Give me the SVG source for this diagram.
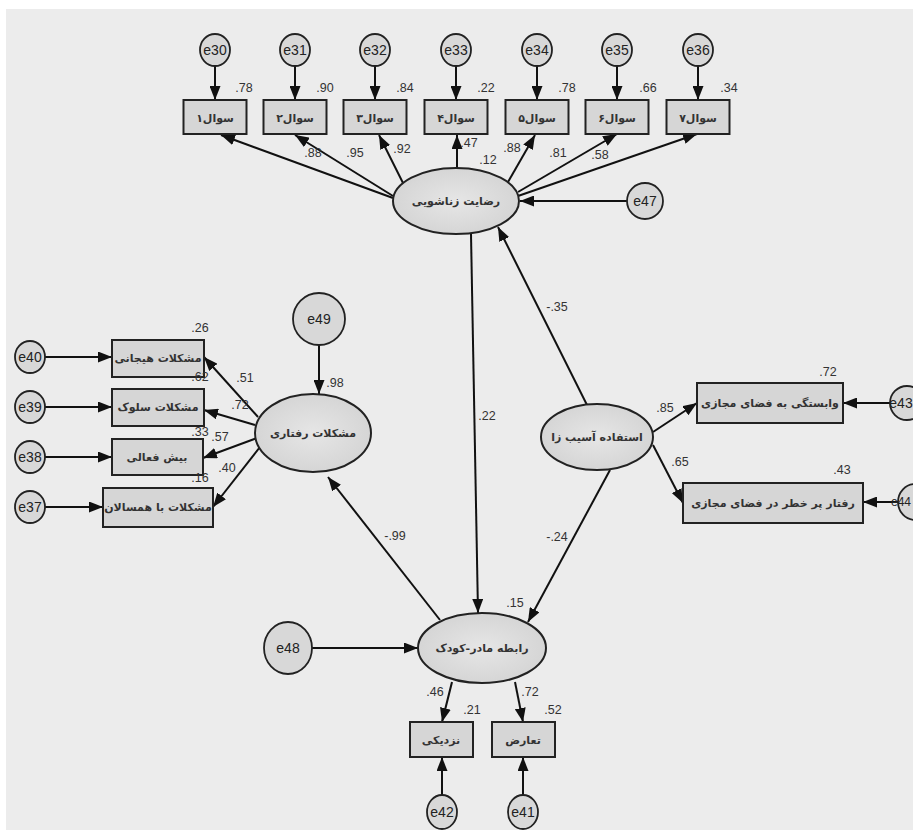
<svg xmlns="http://www.w3.org/2000/svg" width="913" height="830" viewBox="0 0 913 830">
<defs>
<marker id="ah" markerUnits="userSpaceOnUse" markerWidth="14" markerHeight="11" refX="14" refY="5.5" orient="auto">
<path d="M0,0 L14,5.5 L0,11 z" fill="#111"/>
</marker>
<radialGradient id="eg" cx="50%" cy="50%" r="60%">
<stop offset="0" stop-color="#e6e6e6"/>
<stop offset="1" stop-color="#d2d2d2"/>
</radialGradient>
<style>
.bg{fill:#ececec}
.box{fill:#d6d6d6;stroke:#222;stroke-width:2}
.lat{fill:url(#eg);stroke:#222;stroke-width:2}
.err{fill:#d8d8d8;stroke:#222;stroke-width:1.8}
.ln{stroke:#111;stroke-width:2;fill:none;marker-end:url(#ah)}
.num{font-family:"Liberation Sans Narrow","Liberation Sans",Arial,sans-serif;font-size:12.5px;fill:#333;text-anchor:middle}
.et{font-family:"Liberation Sans",Arial,sans-serif;font-size:14px;fill:#222;text-anchor:middle}
.fa{font-family:"DejaVu Sans","Noto Sans",sans-serif;font-size:11px;font-weight:bold;fill:#333;text-anchor:middle}
</style>
</defs>
<rect x="0" y="0" width="913" height="830" fill="#fff"/>
<rect class="bg" x="6" y="9" width="907" height="821"/>

<g id="connectors">
<line class="ln" x1="215" y1="66" x2="215" y2="100"/>
<line class="ln" x1="295" y1="66" x2="295" y2="100"/>
<line class="ln" x1="375" y1="66" x2="375" y2="100"/>
<line class="ln" x1="456" y1="66" x2="456" y2="100"/>
<line class="ln" x1="537" y1="66" x2="537" y2="100"/>
<line class="ln" x1="617" y1="66" x2="617" y2="100"/>
<line class="ln" x1="698" y1="66" x2="698" y2="100"/>
<line class="ln" x1="393" y1="198" x2="221" y2="135"/>
<line class="ln" x1="393" y1="196" x2="295" y2="135"/>
<line class="ln" x1="403" y1="183" x2="379" y2="135"/>
<line class="ln" x1="457" y1="168" x2="457" y2="135"/>
<line class="ln" x1="508" y1="182" x2="535" y2="135"/>
<line class="ln" x1="518" y1="192" x2="617" y2="134"/>
<line class="ln" x1="518" y1="196" x2="697" y2="134"/>
<line class="ln" x1="627" y1="201" x2="520" y2="201"/>
<line class="ln" x1="471" y1="234" x2="478" y2="613"/>
<line class="ln" x1="587" y1="405" x2="498" y2="227"/>
<line class="ln" x1="610" y1="470" x2="528" y2="622"/>
<line class="ln" x1="312" y1="648" x2="418" y2="648"/>
<line class="ln" x1="440" y1="620" x2="328" y2="477"/>
<line class="ln" x1="319" y1="345" x2="319" y2="394"/>
<line class="ln" x1="45" y1="357" x2="112" y2="357"/>
<line class="ln" x1="45" y1="407" x2="112" y2="407"/>
<line class="ln" x1="45" y1="457" x2="112" y2="457"/>
<line class="ln" x1="45" y1="507" x2="103" y2="507"/>
<line class="ln" x1="258" y1="417" x2="204" y2="357"/>
<line class="ln" x1="255" y1="425" x2="204" y2="410"/>
<line class="ln" x1="257" y1="438" x2="203" y2="458"/>
<line class="ln" x1="260" y1="447" x2="213" y2="507"/>
<line class="ln" x1="890" y1="403" x2="843" y2="403"/>
<line class="ln" x1="898" y1="502" x2="863" y2="502"/>
<line class="ln" x1="653" y1="432" x2="697" y2="403"/>
<line class="ln" x1="653" y1="445" x2="683" y2="503"/>
<line class="ln" x1="452" y1="682" x2="442" y2="722"/>
<line class="ln" x1="515" y1="682" x2="523" y2="722"/>
<line class="ln" x1="442" y1="795" x2="442" y2="757"/>
<line class="ln" x1="523" y1="795" x2="523" y2="757"/>
</g>

<g id="e30"><ellipse class="err" cx="215" cy="50" rx="15" ry="16"/><text class="et" x="215" y="55">e30</text></g>
<g id="e31"><ellipse class="err" cx="295" cy="50" rx="15" ry="16"/><text class="et" x="295" y="55">e31</text></g>
<g id="e32"><ellipse class="err" cx="375" cy="50" rx="15" ry="16"/><text class="et" x="375" y="55">e32</text></g>
<g id="e33"><ellipse class="err" cx="456" cy="50" rx="15" ry="16"/><text class="et" x="456" y="55">e33</text></g>
<g id="e34"><ellipse class="err" cx="537" cy="50" rx="15" ry="16"/><text class="et" x="537" y="55">e34</text></g>
<g id="e35"><ellipse class="err" cx="617" cy="50" rx="15" ry="16"/><text class="et" x="617" y="55">e35</text></g>
<g id="e36"><ellipse class="err" cx="698" cy="50" rx="15" ry="16"/><text class="et" x="698" y="55">e36</text></g>

<g id="q1"><rect class="box" x="183.5" y="100" width="63" height="34"/><text class="fa" x="215" y="122">سوال۱</text><text class="num" x="244" y="92">.78</text></g>
<g id="q2"><rect class="box" x="263.5" y="100" width="63" height="34"/><text class="fa" x="295" y="122">سوال۲</text><text class="num" x="325" y="92">.90</text></g>
<g id="q3"><rect class="box" x="343.5" y="100" width="63" height="34"/><text class="fa" x="375" y="122">سوال۳</text><text class="num" x="405" y="92">.84</text></g>
<g id="q4"><rect class="box" x="424.5" y="100" width="63" height="34"/><text class="fa" x="456" y="122">سوال۴</text><text class="num" x="486" y="92">.22</text></g>
<g id="q5"><rect class="box" x="505.5" y="100" width="63" height="34"/><text class="fa" x="537" y="122">سوال۵</text><text class="num" x="567" y="92">.78</text></g>
<g id="q6"><rect class="box" x="585.5" y="100" width="63" height="34"/><text class="fa" x="617" y="122">سوال۶</text><text class="num" x="648" y="92">.66</text></g>
<g id="q7"><rect class="box" x="666.5" y="100" width="63" height="34"/><text class="fa" x="698" y="122">سوال۷</text><text class="num" x="729" y="92">.34</text></g>

<g id="loadings-top">
<text class="num" x="313" y="157">.88</text>
<text class="num" x="355" y="157">.95</text>
<text class="num" x="402" y="153">.92</text>
<text class="num" x="469" y="147">.47</text>
<text class="num" x="488" y="164">.12</text>
<text class="num" x="512" y="152">.88</text>
<text class="num" x="558" y="157">.81</text>
<text class="num" x="600" y="159">.58</text>
</g>

<g id="satisfaction"><ellipse class="lat" cx="456" cy="201" rx="63" ry="33"/><text class="fa" x="456" y="205">رضایت زناشویی</text></g>
<g id="e47"><ellipse class="err" cx="645" cy="201" rx="18" ry="18"/><text class="et" x="645" y="206">e47</text></g>

<g id="paths-labels">
<text class="num" x="487" y="420">.22</text>
<text class="num" x="557" y="311">-.35</text>
<text class="num" x="557" y="541">-.24</text>
<text class="num" x="395" y="540">-.99</text>
</g>

<g id="behavior"><ellipse class="lat" cx="313" cy="433" rx="58" ry="39"/><text class="fa" x="313" y="437">مشکلات رفتاری</text><text class="num" x="335" y="387">.98</text></g>
<g id="e49"><ellipse class="err" cx="319" cy="319" rx="26" ry="26"/><text class="et" x="319" y="324">e49</text></g>

<g id="b1"><rect class="box" x="112" y="340" width="92" height="37"/><text class="fa" x="158" y="362">مشکلات هیجانی</text><text class="num" x="200" y="332">.26</text></g>
<g id="b2"><rect class="box" x="112" y="389" width="92" height="37"/><text class="fa" x="158" y="411">مشکلات سلوک</text><text class="num" x="200" y="381">.62</text></g>
<g id="b3"><rect class="box" x="112" y="439" width="91" height="36"/><text class="fa" x="157" y="461">بیش فعالی</text><text class="num" x="200" y="436">.33</text></g>
<g id="b4"><rect class="box" x="103" y="488" width="110" height="39"/><text class="fa" x="158" y="511">مشکلات با همسالان</text><text class="num" x="200" y="482">.16</text></g>
<g id="loadings-left">
<text class="num" x="245" y="382">.51</text>
<text class="num" x="240" y="409">.72</text>
<text class="num" x="220" y="441">.57</text>
<text class="num" x="227" y="472">.40</text>
</g>
<g id="e40"><ellipse class="err" cx="30" cy="357" rx="15" ry="16"/><text class="et" x="30" y="362">e40</text></g>
<g id="e39"><ellipse class="err" cx="30" cy="407" rx="15" ry="16"/><text class="et" x="30" y="412">e39</text></g>
<g id="e38"><ellipse class="err" cx="30" cy="457" rx="15" ry="16"/><text class="et" x="30" y="462">e38</text></g>
<g id="e37"><ellipse class="err" cx="30" cy="507" rx="15" ry="16"/><text class="et" x="30" y="512">e37</text></g>

<g id="harmful"><ellipse class="lat" cx="597" cy="437" rx="56" ry="33"/><text class="fa" x="597" y="441">استفاده آسیب زا</text></g>
<g id="r1"><rect class="box" x="697" y="383" width="146" height="40"/><text class="fa" x="770" y="407">وابستگی به فضای مجازی</text><text class="num" x="828" y="376">.72</text></g>
<g id="r2"><rect class="box" x="683" y="483" width="180" height="40"/><text class="fa" x="773" y="507">رفتار پر خطر در فضای مجازی</text><text class="num" x="842" y="474">.43</text></g>
<g id="loadings-right">
<text class="num" x="665" y="412">.85</text>
<text class="num" x="680" y="466">.65</text>
</g>
<g id="e43"><ellipse class="err" cx="907" cy="403" rx="17" ry="17"/><text class="et" x="901" y="408">e43</text></g>
<g id="e44"><ellipse class="err" cx="915" cy="502" rx="17" ry="18"/><text class="et" x="911" y="506" style="font-size:12px;text-anchor:end">e44</text></g>

<g id="mother-child"><ellipse class="lat" cx="482" cy="648" rx="64" ry="35"/><text class="fa" x="482" y="652">رابطه مادر-کودک</text><text class="num" x="515" y="607">.15</text></g>
<g id="e48"><ellipse class="err" cx="288" cy="648" rx="24" ry="26"/><text class="et" x="288" y="653">e48</text></g>
<g id="m1"><rect class="box" x="410" y="722" width="63" height="35"/><text class="fa" x="441" y="744">نزدیکی</text><text class="num" x="472" y="714">.21</text></g>
<g id="m2"><rect class="box" x="492" y="722" width="63" height="35"/><text class="fa" x="523" y="744">تعارض</text><text class="num" x="553" y="714">.52</text></g>
<g id="loadings-bottom">
<text class="num" x="435" y="696">.46</text>
<text class="num" x="530" y="696">.72</text>
</g>
<g id="e42"><ellipse class="err" cx="442" cy="812" rx="15" ry="17"/><text class="et" x="442" y="817">e42</text></g>
<g id="e41"><ellipse class="err" cx="523" cy="812" rx="15" ry="17"/><text class="et" x="523" y="817">e41</text></g>
</svg>
